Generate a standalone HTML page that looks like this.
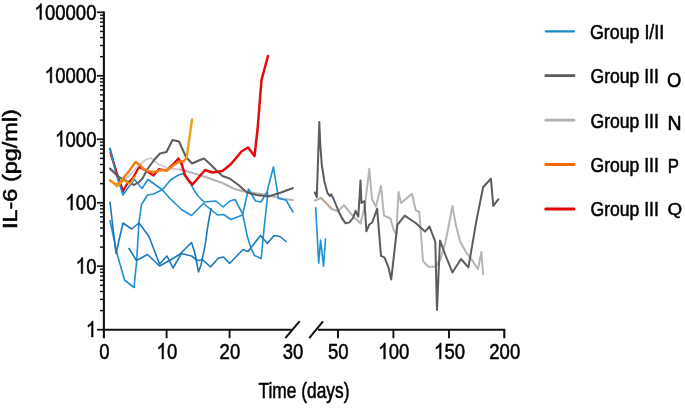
<!DOCTYPE html>
<html><head><meta charset="utf-8"><style>
html,body{margin:0;padding:0;background:#fff;width:685px;height:410px;overflow:hidden}
svg{display:block;filter:blur(0.35px)}
text{font-family:"Liberation Sans", sans-serif}
</style></head><body>
<svg width="685" height="410" viewBox="0 0 685 410">
<line x1="103.9" y1="11.50" x2="103.9" y2="338.2" stroke="#111" stroke-width="2.1"/>
<line x1="96.9" y1="329.70" x2="103.9" y2="329.70" stroke="#111" stroke-width="1.7"/>
<line x1="96.9" y1="266.22" x2="103.9" y2="266.22" stroke="#111" stroke-width="1.7"/>
<line x1="96.9" y1="202.74" x2="103.9" y2="202.74" stroke="#111" stroke-width="1.7"/>
<line x1="96.9" y1="139.26" x2="103.9" y2="139.26" stroke="#111" stroke-width="1.7"/>
<line x1="96.9" y1="75.78" x2="103.9" y2="75.78" stroke="#111" stroke-width="1.7"/>
<line x1="96.9" y1="12.30" x2="103.9" y2="12.30" stroke="#111" stroke-width="1.7"/>
<line x1="100.0" y1="310.59" x2="103.9" y2="310.59" stroke="#111" stroke-width="1.45"/>
<line x1="100.0" y1="299.41" x2="103.9" y2="299.41" stroke="#111" stroke-width="1.45"/>
<line x1="100.0" y1="291.48" x2="103.9" y2="291.48" stroke="#111" stroke-width="1.45"/>
<line x1="100.0" y1="285.33" x2="103.9" y2="285.33" stroke="#111" stroke-width="1.45"/>
<line x1="100.0" y1="280.30" x2="103.9" y2="280.30" stroke="#111" stroke-width="1.45"/>
<line x1="100.0" y1="276.05" x2="103.9" y2="276.05" stroke="#111" stroke-width="1.45"/>
<line x1="100.0" y1="272.37" x2="103.9" y2="272.37" stroke="#111" stroke-width="1.45"/>
<line x1="100.0" y1="269.12" x2="103.9" y2="269.12" stroke="#111" stroke-width="1.45"/>
<line x1="100.0" y1="247.11" x2="103.9" y2="247.11" stroke="#111" stroke-width="1.45"/>
<line x1="100.0" y1="235.93" x2="103.9" y2="235.93" stroke="#111" stroke-width="1.45"/>
<line x1="100.0" y1="228.00" x2="103.9" y2="228.00" stroke="#111" stroke-width="1.45"/>
<line x1="100.0" y1="221.85" x2="103.9" y2="221.85" stroke="#111" stroke-width="1.45"/>
<line x1="100.0" y1="216.82" x2="103.9" y2="216.82" stroke="#111" stroke-width="1.45"/>
<line x1="100.0" y1="212.57" x2="103.9" y2="212.57" stroke="#111" stroke-width="1.45"/>
<line x1="100.0" y1="208.89" x2="103.9" y2="208.89" stroke="#111" stroke-width="1.45"/>
<line x1="100.0" y1="205.64" x2="103.9" y2="205.64" stroke="#111" stroke-width="1.45"/>
<line x1="100.0" y1="183.63" x2="103.9" y2="183.63" stroke="#111" stroke-width="1.45"/>
<line x1="100.0" y1="172.45" x2="103.9" y2="172.45" stroke="#111" stroke-width="1.45"/>
<line x1="100.0" y1="164.52" x2="103.9" y2="164.52" stroke="#111" stroke-width="1.45"/>
<line x1="100.0" y1="158.37" x2="103.9" y2="158.37" stroke="#111" stroke-width="1.45"/>
<line x1="100.0" y1="153.34" x2="103.9" y2="153.34" stroke="#111" stroke-width="1.45"/>
<line x1="100.0" y1="149.09" x2="103.9" y2="149.09" stroke="#111" stroke-width="1.45"/>
<line x1="100.0" y1="145.41" x2="103.9" y2="145.41" stroke="#111" stroke-width="1.45"/>
<line x1="100.0" y1="142.16" x2="103.9" y2="142.16" stroke="#111" stroke-width="1.45"/>
<line x1="100.0" y1="120.15" x2="103.9" y2="120.15" stroke="#111" stroke-width="1.45"/>
<line x1="100.0" y1="108.97" x2="103.9" y2="108.97" stroke="#111" stroke-width="1.45"/>
<line x1="100.0" y1="101.04" x2="103.9" y2="101.04" stroke="#111" stroke-width="1.45"/>
<line x1="100.0" y1="94.89" x2="103.9" y2="94.89" stroke="#111" stroke-width="1.45"/>
<line x1="100.0" y1="89.86" x2="103.9" y2="89.86" stroke="#111" stroke-width="1.45"/>
<line x1="100.0" y1="85.61" x2="103.9" y2="85.61" stroke="#111" stroke-width="1.45"/>
<line x1="100.0" y1="81.93" x2="103.9" y2="81.93" stroke="#111" stroke-width="1.45"/>
<line x1="100.0" y1="78.68" x2="103.9" y2="78.68" stroke="#111" stroke-width="1.45"/>
<line x1="100.0" y1="56.67" x2="103.9" y2="56.67" stroke="#111" stroke-width="1.45"/>
<line x1="100.0" y1="45.49" x2="103.9" y2="45.49" stroke="#111" stroke-width="1.45"/>
<line x1="100.0" y1="37.56" x2="103.9" y2="37.56" stroke="#111" stroke-width="1.45"/>
<line x1="100.0" y1="31.41" x2="103.9" y2="31.41" stroke="#111" stroke-width="1.45"/>
<line x1="100.0" y1="26.38" x2="103.9" y2="26.38" stroke="#111" stroke-width="1.45"/>
<line x1="100.0" y1="22.13" x2="103.9" y2="22.13" stroke="#111" stroke-width="1.45"/>
<line x1="100.0" y1="18.45" x2="103.9" y2="18.45" stroke="#111" stroke-width="1.45"/>
<line x1="100.0" y1="15.20" x2="103.9" y2="15.20" stroke="#111" stroke-width="1.45"/>
<line x1="102.9" y1="329.8" x2="291.6" y2="329.8" stroke="#111" stroke-width="2.1"/>
<polyline points="318,329.8 504.3,329.8 504.3,338.2" fill="none" stroke="#111" stroke-width="2.1"/>
<line x1="166.6" y1="329.8" x2="166.6" y2="338.2" stroke="#111" stroke-width="1.9"/>
<line x1="229.6" y1="329.8" x2="229.6" y2="338.2" stroke="#111" stroke-width="1.9"/>
<line x1="338.0" y1="329.8" x2="338.0" y2="338.2" stroke="#111" stroke-width="1.9"/>
<line x1="393.4" y1="329.8" x2="393.4" y2="338.2" stroke="#111" stroke-width="1.9"/>
<line x1="449.0" y1="329.8" x2="449.0" y2="338.2" stroke="#111" stroke-width="1.9"/>
<line x1="285.3" y1="338.2" x2="299.7" y2="321.2" stroke="#111" stroke-width="2"/>
<line x1="309.2" y1="338.2" x2="323.0" y2="321.4" stroke="#111" stroke-width="2"/>
<g transform="translate(86.18,337.00) scale(0.8320,1)" fill="#000" stroke="#000" stroke-width="0.55" stroke-linejoin="round"><path transform="translate(0.00,0) scale(22.3)" stroke-width="0.0247" d="M0.373,0 L0.285,0 L0.285,-0.560 C0.253,-0.530 0.210,-0.500 0.160,-0.470 C0.135,-0.455 0.115,-0.447 0.097,-0.443 L0.097,-0.528 C0.150,-0.552 0.200,-0.585 0.240,-0.622 C0.280,-0.660 0.305,-0.690 0.317,-0.716 L0.373,-0.716 Z"/></g>
<g transform="translate(75.86,273.52) scale(0.8320,1)" fill="#000" stroke="#000" stroke-width="0.55" stroke-linejoin="round"><path transform="translate(0.00,0) scale(22.3)" stroke-width="0.0247" d="M0.373,0 L0.285,0 L0.285,-0.560 C0.253,-0.530 0.210,-0.500 0.160,-0.470 C0.135,-0.455 0.115,-0.447 0.097,-0.443 L0.097,-0.528 C0.150,-0.552 0.200,-0.585 0.240,-0.622 C0.280,-0.660 0.305,-0.690 0.317,-0.716 L0.373,-0.716 Z"/><text x="12.40" y="0" font-size="22.3">0</text></g>
<g transform="translate(65.54,210.04) scale(0.8320,1)" fill="#000" stroke="#000" stroke-width="0.55" stroke-linejoin="round"><path transform="translate(0.00,0) scale(22.3)" stroke-width="0.0247" d="M0.373,0 L0.285,0 L0.285,-0.560 C0.253,-0.530 0.210,-0.500 0.160,-0.470 C0.135,-0.455 0.115,-0.447 0.097,-0.443 L0.097,-0.528 C0.150,-0.552 0.200,-0.585 0.240,-0.622 C0.280,-0.660 0.305,-0.690 0.317,-0.716 L0.373,-0.716 Z"/><text x="12.40" y="0" font-size="22.3">0</text><text x="24.81" y="0" font-size="22.3">0</text></g>
<g transform="translate(55.22,146.56) scale(0.8320,1)" fill="#000" stroke="#000" stroke-width="0.55" stroke-linejoin="round"><path transform="translate(0.00,0) scale(22.3)" stroke-width="0.0247" d="M0.373,0 L0.285,0 L0.285,-0.560 C0.253,-0.530 0.210,-0.500 0.160,-0.470 C0.135,-0.455 0.115,-0.447 0.097,-0.443 L0.097,-0.528 C0.150,-0.552 0.200,-0.585 0.240,-0.622 C0.280,-0.660 0.305,-0.690 0.317,-0.716 L0.373,-0.716 Z"/><text x="12.40" y="0" font-size="22.3">0</text><text x="24.81" y="0" font-size="22.3">0</text><text x="37.21" y="0" font-size="22.3">0</text></g>
<g transform="translate(44.90,83.08) scale(0.8320,1)" fill="#000" stroke="#000" stroke-width="0.55" stroke-linejoin="round"><path transform="translate(0.00,0) scale(22.3)" stroke-width="0.0247" d="M0.373,0 L0.285,0 L0.285,-0.560 C0.253,-0.530 0.210,-0.500 0.160,-0.470 C0.135,-0.455 0.115,-0.447 0.097,-0.443 L0.097,-0.528 C0.150,-0.552 0.200,-0.585 0.240,-0.622 C0.280,-0.660 0.305,-0.690 0.317,-0.716 L0.373,-0.716 Z"/><text x="12.40" y="0" font-size="22.3">0</text><text x="24.81" y="0" font-size="22.3">0</text><text x="37.21" y="0" font-size="22.3">0</text><text x="49.61" y="0" font-size="22.3">0</text></g>
<g transform="translate(34.58,19.60) scale(0.8320,1)" fill="#000" stroke="#000" stroke-width="0.55" stroke-linejoin="round"><path transform="translate(0.00,0) scale(22.3)" stroke-width="0.0247" d="M0.373,0 L0.285,0 L0.285,-0.560 C0.253,-0.530 0.210,-0.500 0.160,-0.470 C0.135,-0.455 0.115,-0.447 0.097,-0.443 L0.097,-0.528 C0.150,-0.552 0.200,-0.585 0.240,-0.622 C0.280,-0.660 0.305,-0.690 0.317,-0.716 L0.373,-0.716 Z"/><text x="12.40" y="0" font-size="22.3">0</text><text x="24.81" y="0" font-size="22.3">0</text><text x="37.21" y="0" font-size="22.3">0</text><text x="49.61" y="0" font-size="22.3">0</text><text x="62.02" y="0" font-size="22.3">0</text></g>
<g transform="translate(99.14,358.90) scale(0.8320,1)" fill="#000" stroke="#000" stroke-width="0.55" stroke-linejoin="round"><text x="0.00" y="0" font-size="22.3">0</text></g>
<g transform="translate(156.68,358.90) scale(0.8320,1)" fill="#000" stroke="#000" stroke-width="0.55" stroke-linejoin="round"><path transform="translate(0.00,0) scale(22.3)" stroke-width="0.0247" d="M0.373,0 L0.285,0 L0.285,-0.560 C0.253,-0.530 0.210,-0.500 0.160,-0.470 C0.135,-0.455 0.115,-0.447 0.097,-0.443 L0.097,-0.528 C0.150,-0.552 0.200,-0.585 0.240,-0.622 C0.280,-0.660 0.305,-0.690 0.317,-0.716 L0.373,-0.716 Z"/><text x="12.40" y="0" font-size="22.3">0</text></g>
<g transform="translate(219.58,358.90) scale(0.8320,1)" fill="#000" stroke="#000" stroke-width="0.55" stroke-linejoin="round"><text x="0.00" y="0" font-size="22.3">2</text><text x="12.40" y="0" font-size="22.3">0</text></g>
<g transform="translate(282.78,358.90) scale(0.8320,1)" fill="#000" stroke="#000" stroke-width="0.55" stroke-linejoin="round"><text x="0.00" y="0" font-size="22.3">3</text><text x="12.40" y="0" font-size="22.3">0</text></g>
<g transform="translate(327.98,358.90) scale(0.8320,1)" fill="#000" stroke="#000" stroke-width="0.55" stroke-linejoin="round"><text x="0.00" y="0" font-size="22.3">5</text><text x="12.40" y="0" font-size="22.3">0</text></g>
<g transform="translate(378.42,358.90) scale(0.8320,1)" fill="#000" stroke="#000" stroke-width="0.55" stroke-linejoin="round"><path transform="translate(0.00,0) scale(22.3)" stroke-width="0.0247" d="M0.373,0 L0.285,0 L0.285,-0.560 C0.253,-0.530 0.210,-0.500 0.160,-0.470 C0.135,-0.455 0.115,-0.447 0.097,-0.443 L0.097,-0.528 C0.150,-0.552 0.200,-0.585 0.240,-0.622 C0.280,-0.660 0.305,-0.690 0.317,-0.716 L0.373,-0.716 Z"/><text x="12.40" y="0" font-size="22.3">0</text><text x="24.81" y="0" font-size="22.3">0</text></g>
<g transform="translate(434.22,358.90) scale(0.8320,1)" fill="#000" stroke="#000" stroke-width="0.55" stroke-linejoin="round"><path transform="translate(0.00,0) scale(22.3)" stroke-width="0.0247" d="M0.373,0 L0.285,0 L0.285,-0.560 C0.253,-0.530 0.210,-0.500 0.160,-0.470 C0.135,-0.455 0.115,-0.447 0.097,-0.443 L0.097,-0.528 C0.150,-0.552 0.200,-0.585 0.240,-0.622 C0.280,-0.660 0.305,-0.690 0.317,-0.716 L0.373,-0.716 Z"/><text x="12.40" y="0" font-size="22.3">5</text><text x="24.81" y="0" font-size="22.3">0</text></g>
<g transform="translate(489.32,358.90) scale(0.8320,1)" fill="#000" stroke="#000" stroke-width="0.55" stroke-linejoin="round"><text x="0.00" y="0" font-size="22.3">2</text><text x="12.40" y="0" font-size="22.3">0</text><text x="24.81" y="0" font-size="22.3">0</text></g>
<text transform="translate(258.43,398.00) scale(0.7896,0.9689)" font-size="22" fill="#000" stroke="#000" stroke-width="0.55" stroke-linejoin="round">Time (days)</text>
<text transform="translate(16.90,229.06) rotate(-90) scale(1.1739,0.9669)" font-size="20" fill="#000" stroke="#000" stroke-width="0.55" stroke-linejoin="round">IL-6 (pg/ml)</text>
<line x1="545.8" y1="31.30" x2="574.0" y2="31.30" stroke="#1a8cc4" stroke-width="2.2" stroke-linecap="round"/>
<text transform="translate(589.95,38.87) scale(0.8918,0.9771)" font-size="20" fill="#000" stroke="#000" stroke-width="0.55" stroke-linejoin="round">Group I/II</text>
<line x1="545.8" y1="75.72" x2="574.0" y2="75.72" stroke="#5a5a5a" stroke-width="2.8" stroke-linecap="round"/>
<text transform="translate(590.46,83.38) scale(0.8794,0.9748)" font-size="20" fill="#000" stroke="#000" stroke-width="0.55" stroke-linejoin="round">Group III</text>
<text transform="translate(666.97,87.12) scale(0.9161,1.0197)" font-size="20" fill="#000" stroke="#000" stroke-width="0.55" stroke-linejoin="round">O</text>
<line x1="545.8" y1="120.14" x2="574.0" y2="120.14" stroke="#b0b0b0" stroke-width="2.6" stroke-linecap="round"/>
<text transform="translate(590.46,127.68) scale(0.8794,0.9748)" font-size="20" fill="#000" stroke="#000" stroke-width="0.55" stroke-linejoin="round">Group III</text>
<text transform="translate(667.47,130.22) scale(0.9735,1.0203)" font-size="20" fill="#000" stroke="#000" stroke-width="0.55" stroke-linejoin="round">N</text>
<line x1="545.8" y1="164.56" x2="574.0" y2="164.56" stroke="#f56a00" stroke-width="3.0" stroke-linecap="round"/>
<text transform="translate(590.46,171.68) scale(0.8794,0.9748)" font-size="20" fill="#000" stroke="#000" stroke-width="0.55" stroke-linejoin="round">Group III</text>
<text transform="translate(667.65,172.83) scale(0.8400,0.9923)" font-size="20" fill="#000" stroke="#000" stroke-width="0.55" stroke-linejoin="round">P</text>
<line x1="545.8" y1="208.98" x2="574.0" y2="208.98" stroke="#e00000" stroke-width="3.0" stroke-linecap="round"/>
<text transform="translate(590.46,215.68) scale(0.8794,0.9748)" font-size="20" fill="#000" stroke="#000" stroke-width="0.55" stroke-linejoin="round">Group III</text>
<text transform="translate(667.55,214.53) scale(0.9443,0.8593)" font-size="20" fill="#000" stroke="#000" stroke-width="0.55" stroke-linejoin="round">Q</text>
<polyline points="110.0,148.5 113.0,160.0 116.5,173.0 120.0,184.0 123.0,193.0" fill="none" stroke="#2c3f8c" stroke-width="1.8" stroke-linejoin="round" stroke-linecap="round" opacity="1.0"/>
<polyline points="110.5,153.0 116.5,172.0 123.0,191.0 127.0,184.0 133.0,178.0 139.0,167.0 146.0,170.5 153.5,175.5 159.0,169.0 166.0,170.5 172.5,165.0 178.5,158.5 181.5,163.5" fill="none" stroke="#d80c0c" stroke-width="2.3" stroke-linejoin="round" stroke-linecap="round" opacity="1.0"/>
<polyline points="110.0,170.0 117.0,175.5 124.0,180.0 131.0,174.0 138.0,166.0 146.0,159.5 151.0,158.0 158.0,164.0 169.0,168.5 180.0,169.5 188.0,171.5" fill="none" stroke="#d2c6d2" stroke-width="1.8" stroke-linejoin="round" stroke-linecap="round" opacity="1.0"/>
<polyline points="180.0,169.5 188.0,171.5 196.0,174.0 205.5,177.0 214.0,180.0 222.5,183.0 234.5,189.0 249.0,192.5 261.5,194.0 273.5,196.5 283.5,199.0 293.0,200.0" fill="none" stroke="#b5b5b5" stroke-width="2.0" stroke-linejoin="round" stroke-linecap="round" opacity="1.0"/>
<polyline points="110.0,148.5 116.0,173.5 123.0,195.0 128.5,187.0 134.5,179.5 142.0,188.5 148.0,179.5 155.0,184.5 162.5,190.0 170.0,198.5 181.5,209.5 191.5,215.5 203.5,203.5 209.0,208.0 217.5,215.0 223.5,214.5 231.0,219.5 242.5,215.0 248.5,189.0 255.5,201.0 261.0,202.0 267.0,192.0 273.4,167.0 278.5,198.5 286.0,200.0 293.0,212.0" fill="none" stroke="#1d8fd2" stroke-width="1.6" stroke-linejoin="round" stroke-linecap="round" opacity="1.0"/>
<polyline points="110.0,220.5 117.0,253.5 124.5,280.0 134.0,287.5 136.5,263.0 139.0,222.0 141.5,204.5 147.5,195.0 153.5,194.0 162.5,189.5 171.0,179.5 178.5,175.0 183.0,173.5 190.0,182.5 194.0,190.0 198.0,196.0 204.0,202.0 216.0,201.0 223.0,207.0 230.0,201.0 235.0,199.5 242.7,214.0 247.3,236.6 251.0,248.3 254.6,255.6 261.2,258.6 264.0,229.0 267.2,200.0 267.6,192.0" fill="none" stroke="#1d8fd2" stroke-width="1.6" stroke-linejoin="round" stroke-linecap="round" opacity="1.0"/>
<polyline points="110.0,202.0 116.0,253.5 123.0,223.0 131.5,229.0 139.0,223.0 149.0,236.5 159.5,264.0 167.0,256.0 173.0,268.0 181.5,253.5 191.5,256.0 197.5,260.5 202.5,259.5 210.5,267.0 218.5,258.0 223.5,257.0 229.5,263.5 243.0,249.5 248.0,251.5 260.5,235.5 267.5,243.5 274.0,235.5 280.0,236.5 286.0,241.5" fill="none" stroke="#1b78bd" stroke-width="1.6" stroke-linejoin="round" stroke-linecap="round" opacity="1.0"/>
<polyline points="129.0,248.5 136.5,260.5 147.5,254.5 159.5,266.0 169.5,260.5 179.5,254.5 191.5,242.5 195.0,253.5 198.5,272.0 201.0,265.0 205.0,246.0 208.0,225.0 211.0,208.5" fill="none" stroke="#1b78bd" stroke-width="1.6" stroke-linejoin="round" stroke-linecap="round" opacity="1.0"/>
<polyline points="110.0,168.5 119.0,177.0 127.0,181.5 134.0,185.0 139.0,182.0 142.5,178.5 147.5,169.0 154.5,159.5 160.0,153.5 166.5,152.0 172.5,140.0 179.0,141.5 186.0,157.0 192.0,163.5 200.0,160.0 204.0,158.5 210.0,164.0 216.0,170.0 222.5,176.0 229.5,178.5 238.5,185.0 247.0,192.5 256.5,195.0 268.5,196.5 281.0,192.5 293.0,188.0" fill="none" stroke="#5c5c5c" stroke-width="2.0" stroke-linejoin="round" stroke-linecap="round" opacity="1.0"/>
<polyline points="110.0,180.5 116.0,184.5 120.0,182.5 125.0,176.0 130.0,170.0 135.5,162.0 140.0,165.0 143.5,169.0 149.0,171.5 155.0,172.0 161.0,170.0 167.0,170.5 172.5,166.0 178.5,162.0 184.0,161.0 186.7,157.6" fill="none" stroke="#f47c10" stroke-width="2.4" stroke-linejoin="round" stroke-linecap="round" opacity="1.0"/>
<polyline points="112.0,182.0 117.0,186.5 124.0,180.5 130.0,184.0 135.5,176.0" fill="none" stroke="#eaa21a" stroke-width="2.0" stroke-linejoin="round" stroke-linecap="round" opacity="1.0"/>
<polyline points="186.7,157.6 192.0,119.5" fill="none" stroke="#eaa21a" stroke-width="2.4" stroke-linejoin="round" stroke-linecap="round" opacity="1.0"/>
<polyline points="181.5,163.5 185.0,175.0 189.0,181.0 192.5,184.5 199.0,177.0 205.0,170.0 212.5,172.5 222.5,171.0 231.0,164.0 241.5,151.5 248.0,147.5 254.5,156.0 257.5,130.0 261.5,80.0 268.0,56.0" fill="none" stroke="#e30b0b" stroke-width="2.5" stroke-linejoin="round" stroke-linecap="round" opacity="1.0"/>
<polyline points="315.0,200.5 321.0,198.0 324.5,201.5 331.8,209.0 338.0,211.3 344.0,205.2 350.0,212.6 355.0,218.0 360.5,223.5 365.0,205.0 369.3,168.8 372.0,199.0 375.9,206.8 381.0,186.0 384.0,215.7 390.5,218.5 393.7,230.3 396.3,234.0 398.5,192.0 401.0,202.9 412.0,193.7 415.7,210.2 419.3,212.0 423.0,261.3 428.4,266.8 435.8,266.8 440.5,258.9 445.6,241.8 452.4,206.0 455.8,224.8 460.2,241.8 466.0,252.1 471.1,258.9 478.0,269.1 481.4,252.1 483.1,274.2" fill="none" stroke="#b5b5b5" stroke-width="2.0" stroke-linejoin="round" stroke-linecap="round" opacity="1.0"/>
<polyline points="314.8,192.5 316.8,197.0 319.3,122.0 320.3,145.0 321.8,165.0 324.5,182.0 327.5,193.0 330.0,196.0 331.2,194.3 333.6,199.0 336.0,205.0 338.8,211.7 341.7,217.6 345.6,223.4 349.5,222.4 353.0,218.0 355.6,210.8 358.3,216.6 360.5,180.5 361.5,203.0 364.4,201.0 366.4,231.3 369.3,224.5 372.2,222.5 377.1,208.8 381.0,255.8 384.6,257.7 388.3,266.8 391.2,279.6 397.4,224.8 404.7,215.7 415.7,223.0 425.0,231.6 429.5,226.5 435.3,241.8 437.0,310.0 440.0,240.5 445.6,255.5 452.4,272.5 461.0,259.0 468.4,267.4 476.3,221.4 483.1,187.3 490.9,178.8 493.3,206.0 498.4,199.2" fill="none" stroke="#5c5c5c" stroke-width="2.0" stroke-linejoin="round" stroke-linecap="round" opacity="1.0"/>
<polyline points="315.7,207.7 318.7,263.3 320.6,240.0 323.5,266.2 325.5,239.0" fill="none" stroke="#1d8fd2" stroke-width="1.6" stroke-linejoin="round" stroke-linecap="round" opacity="1.0"/>
<polyline points="321.0,198.0 324.5,201.5 331.8,209.0" fill="none" stroke="#c4a890" stroke-width="1.8" stroke-linejoin="round" stroke-linecap="round" opacity="1.0"/>
</svg>
</body></html>
